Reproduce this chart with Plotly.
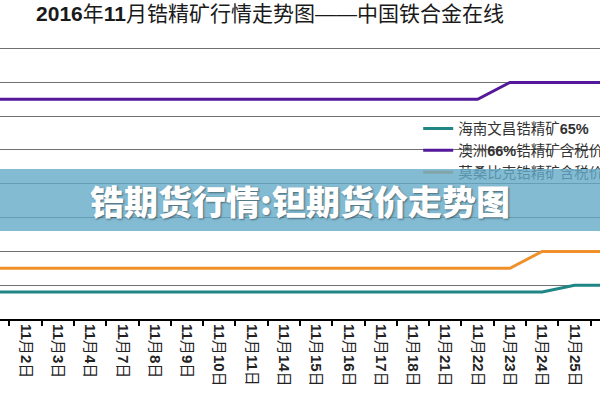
import re

import plotly.graph_objects as go

# trading days shown on the x axis (November 2016)
dates = ["11月1日", "11月2日", "11月3日", "11月4日", "11月7日", "11月8日", "11月9日",
         "11月10日", "11月11日", "11月14日", "11月15日", "11月16日", "11月17日",
         "11月18日", "11月21日", "11月22日", "11月23日", "11月24日", "11月25日", "11月28日"]

# prices, 元/吨
hainan_65 = [9400, 9400, 9400, 9400, 9400, 9400, 9400, 9400, 9400, 9400,
             9400, 9400, 9400, 9400, 9400, 9400, 9400, 9400, 9500, 9500]
aus_66 = [12250, 12250, 12250, 12250, 12250, 12250, 12250, 12250, 12250, 12250,
          12250, 12250, 12250, 12250, 12250, 12250, 12500, 12500, 12500, 12500]
mozambique = [9750, 9750, 9750, 9750, 9750, 9750, 9750, 9750, 9750, 9750,
              9750, 9750, 9750, 9750, 9750, 9750, 9750, 10000, 10000, 10000]

series = [
    ("海南文昌锆精矿<b>65%</b>", hainan_65, "#1f8585"),
    ("澳洲<b>66%</b>锆精矿含税价", aus_66, "#54199a"),
    ("莫桑比克锆精矿含税价", mozambique, "#f0902a"),
]

FONT = "Liberation Sans, Noto Sans CJK SC, sans-serif"

# digits in the date labels are set in bold, like the original
tick_labels = [re.sub(r"(\d+)", r"<b>\1</b>", d) for d in dates]

fig = go.Figure()
for name, vals, color in series:
    fig.add_trace(go.Scatter(
        x=dates, y=vals, name=name, mode="lines",
        line=dict(color=color, width=3),
    ))

fig.update_layout(
    width=600, height=400,
    margin=dict(l=0, r=0, t=40, b=81, autoexpand=False),
    paper_bgcolor="white", plot_bgcolor="white",
    title=dict(
        text="<b>2016</b>年<b>11</b>月锆精矿行情走势图——中国铁合金在线",
        x=0.45, xanchor="center", y=0.965, yanchor="middle",
        font=dict(family=FONT, size=21, color="#1a1a1a"),
    ),
    legend=dict(
        x=0.697, xanchor="left", y=0.74, yanchor="top",
        bgcolor="rgba(0,0,0,0)", borderwidth=0,
        font=dict(family=FONT, size=14.5, color="#333333"),
    ),
    showlegend=True,
)

fig.update_xaxes(
    type="category", range=[0.21, 18.79],
    tickvals=dates, ticktext=tick_labels,
    showgrid=False, showline=True, linecolor="black", linewidth=2,
    ticks="outside", tickson="boundaries", ticklen=5, tickwidth=1.5, tickcolor="black",
    tickangle=90, tickfont=dict(family=FONT, size=15, color="#222222"),
)
fig.update_yaxes(
    range=[9000, 13127], tick0=9000, dtick=500,
    showgrid=True, gridcolor="#707070", gridwidth=1,
    showticklabels=False, zeroline=False, showline=False, ticks="",
)

# overlay banner across the middle of the picture
fig.add_annotation(
    xref="paper", yref="paper", x=0.5, y=0.4265,
    xanchor="center", yanchor="middle",
    text="锆期货行情:钽期货价走势图",
    showarrow=False, width=600, height=62,
    bgcolor="rgba(100,170,200,0.8)", borderpad=0, borderwidth=0,
    font=dict(family="Noto Sans CJK SC, sans-serif", size=34, color="white",
              weight=900, shadow="1px 1px 2px rgba(0,0,0,0.45)"),
)

fig.write_html(
    "out.html",
    config={"displayModeBar": False},
    post_script="document.body.style.margin='0';document.body.style.overflow='hidden';",
)
